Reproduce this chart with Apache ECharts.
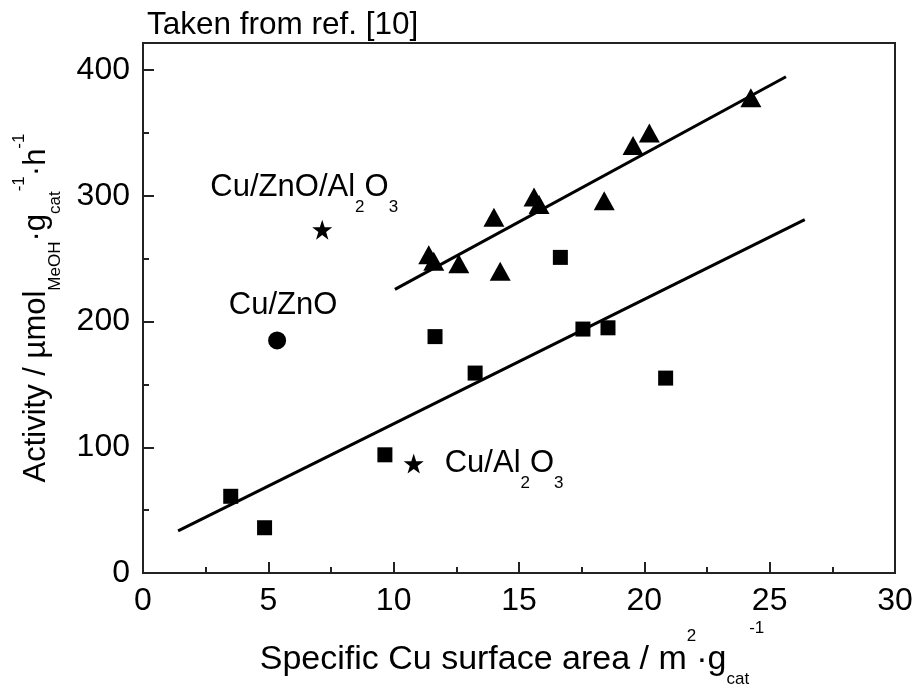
<!DOCTYPE html>
<html>
<head>
<meta charset="utf-8">
<script src="https://cdn.jsdelivr.net/npm/echarts@6/dist/echarts.min.js"></script>
<style>
html, body { margin: 0; padding: 0; background: #fff; }
#chart { width: 918px; height: 684px; }
</style>
</head>
<body>
<div id="chart"></div>
<script>
// values
var xTicks = [0, 5, 10, 15, 20, 25, 30];
var yTicks = [0, 100, 200, 300, 400];
var yFrameMax = 421.5;

// squares
var squareX = [3.5, 4.85, 9.65, 11.65, 13.25, 16.65, 17.55, 18.55, 20.85];
var squareY = [61, 36, 94, 188, 159, 251, 194, 195, 155];

// triangles
var triangleX = [11.4, 11.6, 12.6, 14.0, 14.25, 15.6, 15.8, 18.4, 19.55, 20.2, 24.25];
var triangleY = [253, 248, 246, 283, 240, 299, 293, 296, 340, 350, 378];

// single labelled samples
var cuZnO = [5.35, 185];
var cuZnOAl2O3 = [7.15, 273];
var cuAl2O3 = [10.8, 87];

// fitted lines (end points)
var lowerFitX = [1.4, 26.4];
var lowerFitY = [33.5, 281];
var upperFitX = [10.05, 25.65];
var upperFitY = [225.6, 394.7];

var FONT = '"Liberation Sans", Arial, Helvetica, sans-serif';
var INK = '#000';
var AXIS = '#222';
var STAR = 'path://M50,0 L61.8,35.1 L98.9,35.5 L69.1,57.6 L80.2,93 L50,71.5 L19.8,93 L30.9,57.6 L1.1,35.5 L38.2,35.1 Z';

function pairs(xs, ys) {
    var out = [];
    for (var i = 0; i < xs.length; i++) {
        out.push([xs[i], ys[i]]);
    }
    return out;
}

// sub / superscripts, line box is 80px tall
var rich = {
    sub: { fontFamily: FONT, fontSize: 17, verticalAlign: 'bottom', padding: [0, 0, 12, 0], color: INK },
    sup: { fontFamily: FONT, fontSize: 17, verticalAlign: 'top', padding: [8, 0, 0, 0], color: INK },
    supn: { fontFamily: FONT, fontSize: 17, verticalAlign: 'top', color: INK },
    supy: { fontFamily: FONT, fontSize: 17, verticalAlign: 'top', padding: [15, 0, 0, 0], color: INK }
};

function pointSeries(name, point, symbol, size, label) {
    return {
        name: name,
        type: 'scatter',
        symbol: symbol,
        symbolSize: size,
        itemStyle: { color: INK, opacity: 1 },
        data: [point],
        label: label,
        z: 5
    };
}

var chart = echarts.init(document.getElementById('chart'), null, { renderer: 'canvas' });

chart.setOption({
    animation: false,
    backgroundColor: '#fff',
    title: {
        text: 'Taken from ref. [10]',
        left: 147,
        top: 9,
        padding: 0,
        textStyle: { fontFamily: FONT, fontSize: 31.5, fontWeight: 'normal', color: INK }
    },
    grid: {
        left: 143,
        right: 23,
        top: 43,
        bottom: 111,
        containLabel: false,
        outerBoundsMode: 'none',
        show: true,
        borderColor: AXIS,
        borderWidth: 2,
        backgroundColor: 'transparent'
    },
    xAxis: {
        type: 'value',
        min: xTicks[0],
        max: xTicks[xTicks.length - 1],
        interval: xTicks[1] - xTicks[0],
        name: 'Specific Cu surface area / m{sup|2}·g{sub|cat}{supn|-1}',
        nameLocation: 'middle',
        nameGap: 47,
        nameMoveOverlap: false,
        nameTextStyle: { fontFamily: FONT, fontSize: 34, lineHeight: 80, padding: [0, 14, 0, 0], color: INK, rich: rich },
        splitLine: { show: false },
        axisLine: { lineStyle: { color: AXIS, width: 2 } },
        axisTick: { inside: true, length: 11, lineStyle: { color: AXIS, width: 2 } },
        minorTick: { show: true, splitNumber: 2, length: 6, lineStyle: { color: AXIS, width: 2 } },
        axisLabel: { fontFamily: FONT, fontSize: 32, color: INK, margin: 12 }
    },
    yAxis: [
        {
            type: 'value',
            min: yTicks[0],
            max: yFrameMax,
            interval: yTicks[1] - yTicks[0],
            name: 'Activity / µmol{sub|MeOH}·g{sub|cat}{supy|-1}·h{supy|-1}',
            nameLocation: 'middle',
            nameGap: 67,
            nameMoveOverlap: false,
            nameTextStyle: { fontFamily: FONT, fontSize: 31, lineHeight: 80, color: INK, rich: rich },
            splitLine: { show: false },
            axisLine: { show: true, lineStyle: { color: AXIS, width: 2 } },
            axisTick: { inside: true, length: 11, lineStyle: { color: AXIS, width: 2 } },
            axisLabel: { fontFamily: FONT, fontSize: 32, color: INK, margin: 13, showMaxLabel: false }
        },
        {
            // minor ticks every 50
            type: 'value',
            position: 'left',
            min: yTicks[0],
            max: yFrameMax,
            interval: (yTicks[1] - yTicks[0]) / 2,
            splitLine: { show: false },
            axisLine: { show: false },
            axisTick: { inside: true, length: 6, lineStyle: { color: AXIS, width: 2 } },
            axisLabel: { show: false }
        }
    ],
    series: [
        {
            name: 'lower fit',
            type: 'line',
            showSymbol: false,
            lineStyle: { color: INK, width: 3 },
            data: pairs(lowerFitX, lowerFitY)
        },
        {
            name: 'upper fit',
            type: 'line',
            showSymbol: false,
            lineStyle: { color: INK, width: 3 },
            data: pairs(upperFitX, upperFitY)
        },
        {
            name: 'squares',
            type: 'scatter',
            symbol: 'rect',
            symbolSize: 15,
            itemStyle: { color: INK, opacity: 1 },
            data: pairs(squareX, squareY),
            z: 4
        },
        {
            name: 'triangles',
            type: 'scatter',
            symbol: 'triangle',
            symbolSize: [21, 19],
            itemStyle: { color: INK, opacity: 1 },
            data: pairs(triangleX, triangleY),
            z: 4
        },
        pointSeries('Cu/ZnO', cuZnO, 'circle', 18, {
            show: true,
            position: 'top',
            distance: 10,
            offset: [6, 0],
            formatter: 'Cu/ZnO',
            fontFamily: FONT, fontSize: 31, color: INK
        }),
        pointSeries('Cu/ZnO/Al2O3', cuZnOAl2O3, STAR, 20, {
            show: true,
            position: 'top',
            distance: 4,
            offset: [-18, 12],
            formatter: 'Cu/ZnO/Al{sub|2}O{sub|3}',
            fontFamily: FONT, fontSize: 31, lineHeight: 80, color: INK, rich: rich
        }),
        pointSeries('Cu/Al2O3', cuAl2O3, STAR, 20, {
            show: true,
            position: 'right',
            distance: 21,
            formatter: 'Cu/Al{sub|2}O{sub|3}',
            fontFamily: FONT, fontSize: 31, lineHeight: 80, color: INK, rich: rich
        })
    ]
});
</script>
</body>
</html>
